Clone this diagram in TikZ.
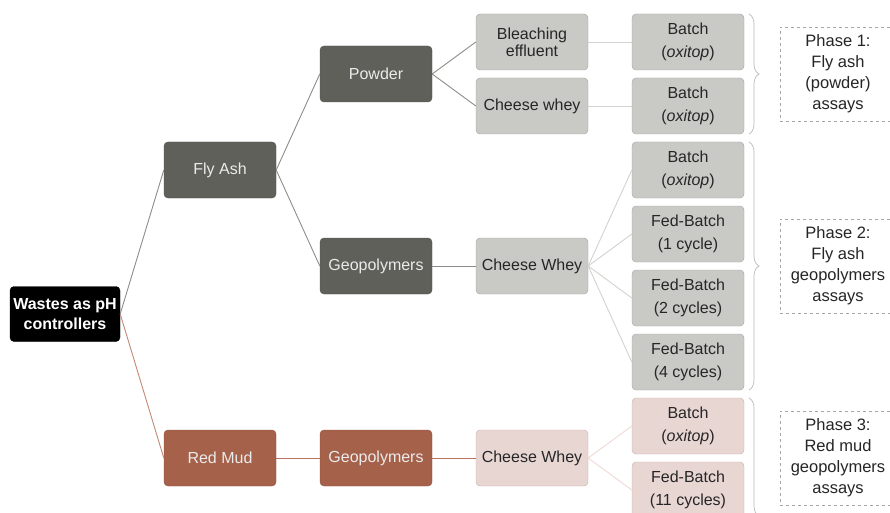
\documentclass[tikz,border=0pt]{standalone}
\usepackage{fontspec}
\setmainfont{Liberation Sans}
\usetikzlibrary{decorations.pathreplacing}
\definecolor{dkfill}{HTML}{5F605A}
\definecolor{dkline}{HTML}{8C8C88}
\definecolor{ltfill}{HTML}{C9C9C5}
\definecolor{ltborder}{HTML}{A3A39F}
\definecolor{ltline}{HTML}{D2D2CE}
\definecolor{rmfill}{HTML}{A5614A}
\definecolor{rmline}{HTML}{B8735E}
\definecolor{pkfill}{HTML}{E8D6D3}
\definecolor{pkborder}{HTML}{C9AFAA}
\definecolor{pkline}{HTML}{EDDAD4}
\definecolor{txt}{HTML}{262626}
\tikzset{
  box/.style={rounded corners=4pt, minimum width=112pt, minimum height=56pt, align=center, inner sep=1pt, font=\fontsize{16}{18}\selectfont},
  dkbox/.style={box, fill=dkfill, draw=dkfill!85!black, text=white!92!black},
  ltbox/.style={box, fill=ltfill, draw=ltborder, text=txt},
  rmbox/.style={box, fill=rmfill, draw=rmfill!85!black, text=white!92!black},
  pkbox/.style={box, fill=pkfill, draw=pkborder, text=txt},
  twoline/.style={font=\fontsize{16}{23.5}\selectfont},
  phase/.style={draw=gray!70, dashed, fill=white, minimum width=116pt, minimum height=94pt, align=center, inner sep=1pt, text=txt, font=\fontsize{16.5}{21}\selectfont},
  brc/.style={draw=gray!55, line width=0.7pt, decorate, decoration={brace, amplitude=10pt}},
}
\begin{document}
\begin{tikzpicture}[x=1pt,y=-1pt]
\useasboundingbox (0,0) rectangle (890,513);
\clip (0,0) rectangle (890,513);
% nodes
\node[box, fill=black, draw=black, text=white, minimum width=110pt, minimum height=55pt, font=\bfseries\fontsize{16}{20}\selectfont] (root) at (65,314) {Wastes as pH\\controllers};
\node[dkbox] (fa) at (220,170) {Fly Ash};
\node[rmbox] (rm) at (220,458) {Red Mud};
\node[dkbox] (pow) at (376,74) {Powder};
\node[dkbox] (fageo) at (376,266) {Geopolymers};
\node[rmbox] (rmgeo) at (376,458) {Geopolymers};
\node[ltbox, font=\fontsize{16}{17}\selectfont] (ble) at (532,42) {Bleaching\\effluent};
\node[ltbox] (cw1) at (532,106) {Cheese whey};
\node[ltbox] (cw2) at (532,266) {Cheese Whey};
\node[pkbox] (cw3) at (532,458) {Cheese Whey};
\node[ltbox, twoline] (b1) at (688,42) {Batch\\(\textit{oxitop})};
\node[ltbox, twoline] (b2) at (688,106) {Batch\\(\textit{oxitop})};
\node[ltbox, twoline] (b3) at (688,170) {Batch\\(\textit{oxitop})};
\node[ltbox, twoline] (f1) at (688,234) {Fed-Batch\\(1 cycle)};
\node[ltbox, twoline] (f2) at (688,298) {Fed-Batch\\(2 cycles)};
\node[ltbox, twoline] (f4) at (688,362) {Fed-Batch\\(4 cycles)};
\node[pkbox, twoline] (b4) at (688,426) {Batch\\(\textit{oxitop})};
\node[pkbox, twoline] (f11) at (688,490) {Fed-Batch\\(11 cycles)};
% connectors
\begin{scope}[line width=0.9pt]
\draw[dkline] (root.east) -- (fa.west);
\draw[rmline!85!white] (root.east) -- (rm.west);
\draw[dkline] (fa.east) -- (pow.west);
\draw[dkline] (fa.east) -- (fageo.west);
\draw[dkline] (pow.east) -- (ble.west);
\draw[dkline] (pow.east) -- (cw1.west);
\draw[ltline] (ble.east) -- (b1.west);
\draw[ltline] (cw1.east) -- (b2.west);
\draw[dkline] (fageo.east) -- (cw2.west);
\foreach \t in {b3,f1,f2,f4} \draw[ltline] (cw2.east) -- (\t.west);
\draw[rmline] (rm.east) -- (rmgeo.west);
\draw[rmline] (rmgeo.east) -- (cw3.west);
\draw[pkline] (cw3.east) -- (b4.west);
\draw[pkline] (cw3.east) -- (f11.west);
\end{scope}
% braces
\coordinate (p1t) at (749,14); \coordinate (p1b) at (749,134);
\coordinate (p2t) at (749,142); \coordinate (p2b) at (749,390);
\coordinate (p3t) at (749,398); \coordinate (p3b) at (749,634);
\draw[brc] (p1t) -- (p1b);
\draw[brc] (p2t) -- (p2b);
\draw[brc] (p3t) -- (p3b);
% phase boxes
\node[phase] (ph1) at (838,74) {Phase 1:\\Fly ash\\(powder)\\assays};
\node[phase] (ph2) at (838,266) {Phase 2:\\Fly ash\\geopolymers\\assays};
\node[phase] (ph3) at (838,458) {Phase 3:\\Red mud\\geopolymers\\assays};
\end{tikzpicture}
\end{document}
